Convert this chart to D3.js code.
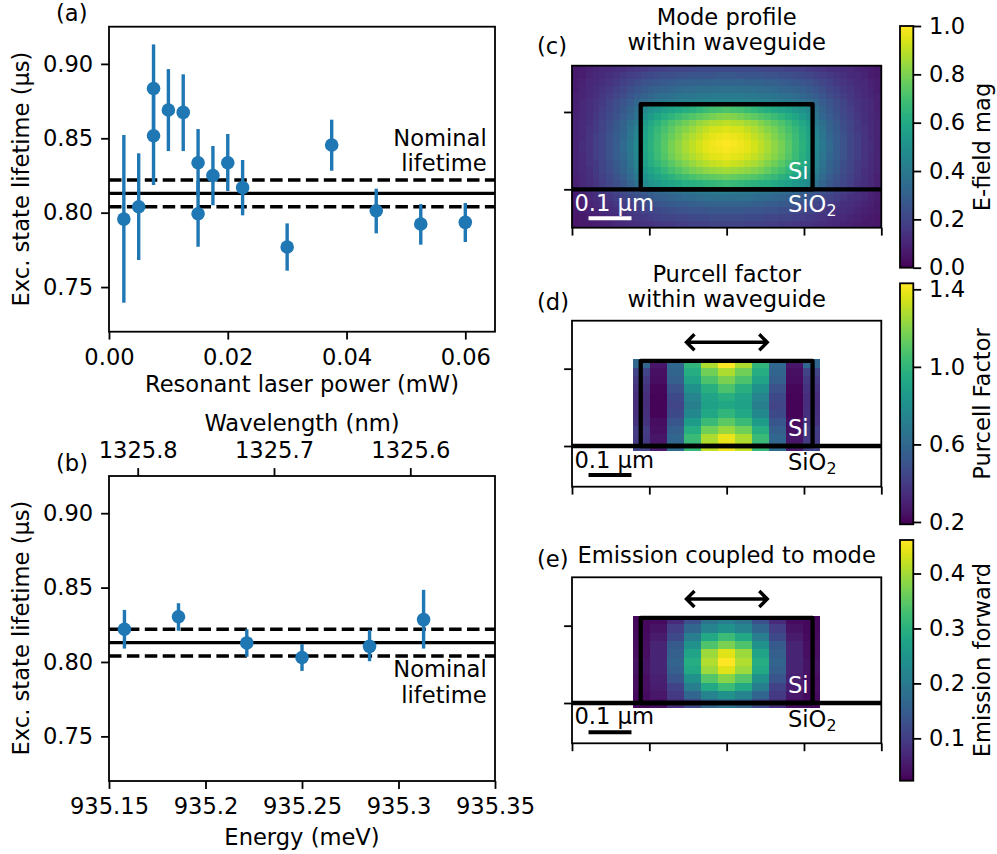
<!DOCTYPE html>
<html><head><meta charset="utf-8">
<style>html,body{margin:0;padding:0;background:#fff}svg{display:block}text{font-family:"DejaVu Sans";fill:#000}</style>
<script src="https://cdn.jsdelivr.net/npm/d3@7"></script></head><body>
<script>
// (a) lifetime vs power
const powerX   = [0.0025,0.005,0.0075,0.0075,0.01,0.0125,0.015,0.015,0.0175,0.02,0.0225,0.03,0.0375,0.045,0.0525,0.06];
const powerY   = [0.7957,0.804,0.8835,0.8517,0.869,0.8674,0.8336,0.7993,0.825,0.8336,0.8168,0.7769,0.8455,0.8013,0.7924,0.7935];
const powerLo  = [0.7395,0.7682,0.854,0.8186,0.8414,0.8414,0.811,0.7771,0.805,0.8146,0.7982,0.761,0.8282,0.7861,0.7785,0.7803];
const powerHi  = [0.8522,0.8399,0.9131,0.885,0.8965,0.893,0.8562,0.8215,0.8448,0.8529,0.8354,0.7928,0.8625,0.8161,0.8058,0.8065];
// (b) lifetime vs energy
const energyX  = [935.158,935.186,935.2214,935.25,935.285,935.313];
const energyY  = [0.8220,0.8304,0.8128,0.8030,0.8105,0.8285];
const energyLo = [0.8090,0.8210,0.8035,0.7940,0.8005,0.8090];
const energyHi = [0.8350,0.8395,0.8220,0.8120,0.8215,0.8485];
const nominal = 0.813, nominalLo = 0.804, nominalHi = 0.822;
const lifeTicks = [0.75,0.80,0.85,0.90];
const lifeLabels = ["0.75","0.80","0.85","0.90"];
const powerTicks = [0,0.02,0.04,0.06];
const powerLabels = ["0.00","0.02","0.04","0.06"];
const energyTicks = [935.15,935.2,935.25,935.3,935.35];
const energyLabels = ["935.15","935.2","935.25","935.3","935.35"];
const wavelengthTicks = [1325.8,1325.7,1325.6];
const wavelengthLabels = ["1325.8","1325.7","1325.6"];
// (c) E-field magnitude ×100, left half + centre column, top to bottom (mode is mirror-symmetric)
const modeHalf = [
[7,8,9,10,11,12,13,14,15,16,17,18,19,19,20,20,21,21,22,22,22,22,22],
[7,8,10,11,12,14,15,17,18,19,21,22,23,24,24,25,25,26,26,26,26,27,27],
[8,9,11,12,14,15,17,19,21,23,25,26,27,28,29,30,30,31,31,31,32,32,32],
[8,10,11,13,15,17,19,21,24,26,28,30,31,32,33,34,35,35,36,36,36,37,37],
[9,10,12,14,16,18,21,23,26,29,31,33,35,36,37,38,39,39,40,40,41,41,41],
[9,11,13,15,17,20,23,26,29,33,35,37,39,40,41,42,43,44,44,45,45,45,45],
[9,11,13,15,18,21,24,27,31,36,47,50,53,56,58,60,62,64,66,68,70,71,72],
[10,11,14,16,19,22,25,29,33,38,51,55,59,62,65,68,71,73,75,77,79,81,82],
[10,12,14,17,20,23,27,31,36,41,55,60,64,68,72,75,78,81,84,86,88,89,90],
[10,12,15,17,20,24,28,32,38,44,57,62,67,71,75,79,82,85,88,91,93,94,95],
[10,12,15,18,21,25,29,33,39,46,58,63,68,73,77,81,85,88,91,94,96,97,98],
[10,13,15,18,21,25,29,34,40,47,59,64,69,74,79,83,87,90,93,96,98,99,100],
[10,13,15,18,21,25,29,34,40,47,59,64,69,74,79,83,87,90,93,96,97,98,99],
[10,12,15,18,21,25,29,33,39,46,58,63,68,73,78,82,85,88,91,93,95,96,97],
[10,12,15,17,20,24,28,32,38,45,57,62,66,70,74,78,81,84,87,89,91,92,93],
[10,12,14,17,20,23,27,31,36,43,54,58,62,66,70,73,76,79,81,83,84,85,86],
[9,11,14,16,19,22,25,29,34,40,51,55,58,61,64,67,69,71,73,74,75,76,77],
[9,11,13,15,18,21,24,27,32,37,47,50,53,56,58,60,62,63,64,65,66,67,68],
[8,10,12,14,16,18,20,23,25,27,29,31,33,34,36,37,38,39,40,41,41,42,42],
[8,9,11,13,14,16,18,20,22,24,26,28,29,30,32,33,34,34,35,36,36,36,37],
[7,9,10,11,13,14,16,18,19,21,23,24,26,27,28,29,29,30,30,31,31,31,31],
[7,8,9,10,12,13,14,15,17,18,20,21,22,23,24,25,25,26,26,26,27,27,27],
[6,7,8,9,10,11,12,13,15,16,17,18,19,20,20,21,21,22,22,22,23,23,23],
[6,7,7,8,9,10,11,12,13,14,15,15,16,17,17,18,18,19,19,19,20,20,20]];
// (d) Purcell factor, left half + centre column
const purcellHalf = [
[.60,.26,.60,1.0,1.28,1.43],
[.44,.24,.59,.96,1.16,1.28],
[.40,.23,.56,.91,1.08,1.18],
[.37,.21,.50,.81,.97,1.08],
[.35,.20,.46,.75,.91,.97],
[.35,.20,.44,.72,.90,.93],
[.36,.20,.46,.77,.93,1.0],
[.37,.23,.52,.87,1.03,1.12],
[.41,.24,.56,.96,1.16,1.24],
[.40,.26,.60,1.03,1.28,1.39],
[.44,.28,.62,1.02,1.31,1.41]];
// (e) emission forward, left half + centre column
const emissionHalf = [
[.032,.036,.075,.132,.189,.207],
[.032,.045,.102,.167,.22,.242],
[.036,.054,.119,.207,.286,.321],
[.04,.067,.146,.242,.338,.373],
[.04,.067,.154,.277,.395,.439],
[.045,.067,.163,.295,.408,.461],
[.045,.067,.154,.286,.395,.439],
[.04,.062,.137,.242,.343,.382],
[.04,.058,.11,.207,.286,.321],
[.036,.049,.097,.167,.22,.242],
[.032,.04,.08,.119,.167,.189]];
const modeTicks = [0,0.2,0.4,0.6,0.8,1.0], modeTickLabels = ["0.0","0.2","0.4","0.6","0.8","1.0"];
const purcellTicks = [0.2,0.6,1.0,1.4], purcellTickLabels = ["0.2","0.6","1.0","1.4"];
const emissionTicks = [0.1,0.2,0.3,0.4], emissionTickLabels = ["0.1","0.2","0.3","0.4"];

const FS = 22.6, LW = 1.8, TL = 7.9, PAD = 7.9, BLUE = "#1f77b4";
const svg = d3.select("body").append("svg").attr("width",997).attr("height",854);
const txt = (x,y,s,o={}) => {
  const t = svg.append("text").attr("x",x).attr("y",y).attr("font-size",FS).attr("text-anchor",o.anchor||"start").text(s);
  if (o.fill) t.style("fill",o.fill);
  if (o.rot) t.attr("transform",`rotate(-90 ${x} ${y})`);
  return t;
};
function styleAxis(g){
  g.selectAll(".domain").remove();
  g.selectAll("line").attr("stroke","#000").attr("stroke-width",LW);
  g.selectAll("text").attr("font-size",FS).attr("font-family","DejaVu Sans");
}
function frame(l,r,t,b){
  svg.append("rect").attr("x",l).attr("y",t).attr("width",r-l).attr("height",b-t)
    .attr("fill","none").attr("stroke","#000").attr("stroke-width",LW);
}
function lifetimePanel(box, xs, xd, X, Y, LO, HI){
  const x = d3.scaleLinear().domain(xd).range([box.l,box.r]);
  const y = d3.scaleLinear().domain([0.72,0.925]).range([box.b,box.t]);
  [[nominalHi,"12.5 5.4"],[nominal,null],[nominalLo,"12.5 5.4"]].forEach(([v,d])=>{
    const ln = svg.append("line").attr("x1",box.l).attr("x2",box.r).attr("y1",y(v)).attr("y2",y(v))
      .attr("stroke","#000").attr("stroke-width",3.4);
    if(d) ln.attr("stroke-dasharray",d);
  });
  const gp = svg.append("g");
  gp.selectAll("line").data(X).join("line")
    .attr("x1",d=>x(d)).attr("x2",d=>x(d))
    .attr("y1",(d,i)=>y(LO[i])).attr("y2",(d,i)=>y(HI[i]))
    .attr("stroke",BLUE).attr("stroke-width",3.4);
  gp.selectAll("circle").data(X).join("circle")
    .attr("cx",d=>x(d)).attr("cy",(d,i)=>y(Y[i])).attr("r",6.8).attr("fill",BLUE);
  styleAxis(svg.append("g").attr("transform",`translate(0,${box.b})`)
    .call(d3.axisBottom(x).tickValues(xs.ticks).tickFormat((d,i)=>xs.labels[i]).tickSize(TL).tickPadding(PAD+1)));
  styleAxis(svg.append("g").attr("transform",`translate(${box.l},0)`)
    .call(d3.axisLeft(y).tickValues(lifeTicks).tickFormat((d,i)=>lifeLabels[i]).tickSize(TL).tickPadding(PAD)));
  frame(box.l,box.r,box.t,box.b);
}
const aBox = {l:109,r:495,t:26.7,b:331.7};
lifetimePanel(aBox,{ticks:powerTicks,labels:powerLabels},[0,0.065],powerX,powerY,powerLo,powerHi);
const bBox = {l:109,r:495,t:476,b:781};
lifetimePanel(bBox,{ticks:energyTicks,labels:energyLabels},[935.15,935.35],energyX,energyY,energyLo,energyHi);
// top wavelength axis
const wl = d3.scaleLinear().domain([1325.8,1325.6]).range([137.7,410.3]);
styleAxis(svg.append("g").attr("transform",`translate(0,${bBox.t})`)
  .call(d3.axisTop(wl).tickValues(wavelengthTicks).tickFormat((d,i)=>wavelengthLabels[i]).tickSize(TL).tickPadding(PAD+2)));

txt(302,392,"Resonant laser power (mW)",{anchor:"middle"});
txt(302,845,"Energy (meV)",{anchor:"middle"});
txt(302,430.7,"Wavelength (nm)",{anchor:"middle"});
txt(29,179,"Exc. state lifetime (µs)",{anchor:"middle",rot:true});
txt(29,628,"Exc. state lifetime (µs)",{anchor:"middle",rot:true});
txt(486.7,146,"Nominal",{anchor:"end"});
txt(486.7,170.7,"lifetime",{anchor:"end"});
txt(486.7,677.3,"Nominal",{anchor:"end"});
txt(486.7,702.7,"lifetime",{anchor:"end"});
txt(56,21,"(a)"); txt(56,471,"(b)");
txt(537,54,"(c)"); txt(537,310,"(d)"); txt(537,567,"(e)");

// Heat panels
const PXUM = 429.6, xL = 572, xR = 881.3;
const mirror = m => m.map(r => r.concat(r.slice(0,-1).reverse()));
function heatPanel(o){
  const xd = (xR-xL)/PXUM/2;
  const x = d3.scaleLinear().domain([-xd,xd]).range([xL,xR]);
  const y = d3.scaleLinear().domain([(o.y0-o.b)/PXUM,(o.y0-o.t)/PXUM]).range([o.b,o.t]);
  const c = d3.scaleSequential(d3.interpolateViridis).domain(o.domain);
  const rows = d3.range(o.data.length), cols = d3.range(o.data[0].length);
  const bx = d3.scaleBand().domain(cols).range([x(o.ex[0]),x(o.ex[1])]);
  const by = d3.scaleBand().domain(rows).range([y(o.ey[1]),y(o.ey[0])]);
  const g = svg.append("g").attr("shape-rendering","crispEdges");
  o.data.forEach((r,i)=>g.selectAll(null).data(r).join("rect")
    .attr("x",(d,j)=>bx(j)).attr("y",by(i)).attr("width",bx.bandwidth()+.5).attr("height",by.bandwidth()+.5)
    .attr("fill",d=>c(d)));
  // silicon outline, interface line
  svg.append("rect").attr("x",x(-0.2)).attr("y",y(0.198)).attr("width",x(0.2)-x(-0.2)).attr("height",y(0)-y(0.198))
    .attr("fill","none").attr("stroke","#000").attr("stroke-width",4.3).attr("stroke-linejoin","round");
  svg.append("line").attr("x1",xL).attr("x2",xR).attr("y1",y(0)).attr("y2",y(0)).attr("stroke","#000").attr("stroke-width",4.3);
  styleAxis(svg.append("g").attr("transform",`translate(0,${o.b})`)
    .call(d3.axisBottom(x).tickValues([-2,-1,0,1,2].map(k=>k*0.18)).tickFormat("").tickSize(TL)));
  styleAxis(svg.append("g").attr("transform",`translate(${xL},0)`)
    .call(d3.axisLeft(y).tickValues([0,0.18]).tickFormat("").tickSize(TL)));
  frame(xL,xR,o.t,o.b);
  const fg = o.fg;
  // scale bar 0.1 µm
  svg.append("line").attr("x1",x(-0.3215)).attr("x2",x(-0.2215)).attr("y1",o.barY).attr("y2",o.barY)
    .attr("stroke",fg).attr("stroke-width",4);
  txt(574.5,o.barTextY,"0.1 µm",{fill:fg});
  txt(788,o.siY,"Si",{fill:"#fff"});
  const so = txt(788,o.sioY,"SiO",{fill:fg});
  so.append("tspan").attr("font-size",FS*0.7).attr("dy",4).text("2").style("fill",fg);
  if(o.arrowY){
    const ax0=x(-0.0935), ax1=x(0.0945), ay=o.arrowY, h=8;
    svg.append("path").attr("fill","none").attr("stroke","#000").attr("stroke-width",3.4)
      .attr("d",`M${ax0},${ay}L${ax1},${ay}M${ax0+h},${ay-h}L${ax0},${ay}L${ax0+h},${ay+h}M${ax1-h},${ay-h}L${ax1},${ay}L${ax1-h},${ay+h}`);
  }
  o.title.forEach((s,i)=>txt(726.7,o.titleY[i],s,{anchor:"middle"}));
}
heatPanel({data:mirror(modeHalf).map(r=>r.map(v=>v/100)),domain:[0,1],t:65.7,b:227.7,y0:189.3,
  ex:[-0.36,0.36],ey:[-0.0894,0.2877],fg:"#fff",barY:218.3,barTextY:210.7,siY:179.3,sioY:212,
  title:["Mode profile","within waveguide"],titleY:[25,50]});
heatPanel({data:mirror(purcellHalf),domain:[0.188,1.431],t:320.7,b:486.7,y0:446,
  ex:[-0.218,0.2165],ey:[-0.0116,0.2018],fg:"#000",barY:475,barTextY:468,siY:436,sioY:470,arrowY:342.3,
  title:["Purcell factor","within waveguide"],titleY:[282,307]});
heatPanel({data:mirror(emissionHalf),domain:[0.0229,0.461],t:577.3,b:743.3,y0:703,
  ex:[-0.218,0.2165],ey:[-0.0109,0.2025],fg:"#000",barY:732.3,barTextY:724,siY:692.7,sioY:726.7,arrowY:599,
  title:["Emission coupled to mode"],titleY:[563]});

// Colorbars
function colorbar(o){
  const l=900,r=913.3;
  const y=d3.scaleLinear().domain(o.domain).range([o.b,o.t]);
  const c=d3.scaleSequential(d3.interpolateViridis).domain(o.domain);
  const levels=d3.range(256).map(i=>o.domain[0]+(o.domain[1]-o.domain[0])*i/255);
  const step=(o.b-o.t)/256;
  const g=svg.append("g").attr("shape-rendering","crispEdges");
  g.selectAll("rect").data(levels).join("rect")
    .attr("x",l).attr("width",r-l).attr("y",(d,i)=>o.b-(i+1)*step).attr("height",step+.6).attr("fill",d=>c(d));
  styleAxis(svg.append("g").attr("transform",`translate(${r},0)`)
    .call(d3.axisRight(y).tickValues(o.ticks).tickFormat((d,i)=>o.labels[i]).tickSize(TL).tickPadding(PAD)));
  frame(l,r,o.t,o.b);
  txt(990,o.labelY,o.label,{anchor:"middle",rot:true});
}
colorbar({domain:[0,1],t:26,b:267.7,ticks:modeTicks,labels:modeTickLabels,label:"E-field mag",labelY:147});
colorbar({domain:[0.188,1.431],t:283.3,b:524.3,ticks:purcellTicks,labels:purcellTickLabels,label:"Purcell Factor",labelY:404});
colorbar({domain:[0.0229,0.461],t:540,b:780.7,ticks:emissionTicks,labels:emissionTickLabels,label:"Emission forward",labelY:660});
</script></body></html>
